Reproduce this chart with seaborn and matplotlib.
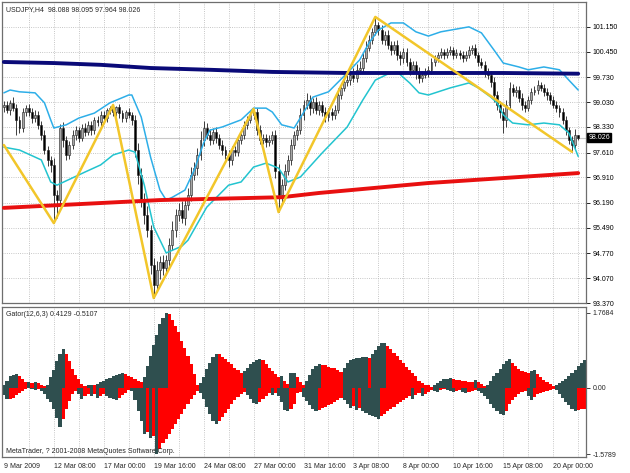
import numpy as np
import pandas as pd
import matplotlib
matplotlib.use('Agg')
import matplotlib.pyplot as plt
import seaborn as sns

# USDJPY H4 closes, one per bar (bar 0 = 9 Mar 2009)
closes = [
    98.95, 98.81, 99.01, 98.87, 98.53, 98.30, 98.75, 98.87, 98.75, 98.58,
    98.67, 98.39, 98.10, 97.68, 97.40, 97.26, 96.41, 96.27, 98.30, 97.96,
    97.54, 97.82, 98.10, 98.24, 98.02, 98.30, 98.19, 98.39, 98.24, 98.53,
    98.47, 98.67, 98.58, 98.81, 98.87, 98.75, 98.89, 98.72, 98.58, 98.75,
    98.67, 98.53, 97.68, 96.98, 96.27, 95.85, 95.42, 94.44, 93.87, 94.30,
    94.52, 94.35, 94.58, 95.00, 95.42, 95.85, 95.99, 95.76, 96.13, 96.41,
    96.98, 97.17, 97.54, 97.96, 98.30, 98.10, 97.96, 98.19, 98.02, 97.82,
    97.68, 97.54, 97.40, 97.68, 97.62, 97.96, 98.10, 98.39, 98.53, 98.67,
    98.75, 98.24, 97.96, 98.02, 97.91, 97.96, 98.10, 97.10, 96.41, 96.69,
    97.10, 97.40, 97.82, 98.10, 98.24, 98.67, 98.95, 99.09, 98.87, 99.03,
    98.81, 98.95, 98.75, 98.61, 98.75, 98.67, 98.81, 99.23, 99.43, 99.60,
    99.65, 99.80, 99.71, 99.94, 99.99, 100.27, 100.56, 100.78, 101.01, 101.20,
    101.06, 100.78, 100.92, 100.64, 100.50, 100.64, 100.36, 100.27, 100.44, 100.16,
    99.94, 100.08, 99.88, 99.71, 99.80, 99.88, 99.94, 100.16, 100.27, 100.36,
    100.44, 100.36, 100.44, 100.50, 100.36, 100.42, 100.36, 100.27, 100.36, 100.50,
    100.56, 100.36, 100.16, 100.08, 99.88, 99.80, 99.60, 99.23, 98.95, 98.75,
    98.53, 98.95, 99.43, 99.32, 99.37, 99.15, 98.95, 98.87, 99.09, 99.32,
    99.37, 99.51, 99.43, 99.32, 99.23, 99.09, 98.95, 98.87, 98.75, 98.53,
    98.24, 97.96, 97.82, 98.09, 98.026,
]
first_open = 98.88

upper_wick = [
    0.10, 0.12, 0.08, 0.15, 0.10, 0.12, 0.10, 0.08, 0.12, 0.10,
    0.14, 0.10, 0.12, 0.15, 0.10, 0.12, 0.20, 0.15, 0.10, 0.18,
    0.12, 0.10, 0.15, 0.12, 0.10, 0.12, 0.15, 0.10, 0.12, 0.08,
    0.10, 0.12, 0.10, 0.06, 0.05, 0.08, 0.04, 0.08, 0.10, 0.06,
    0.10, 0.08, 0.15, 0.20, 0.18, 0.20, 0.25, 0.15, 0.20, 0.25,
    0.18, 0.20, 0.15, 0.20, 0.25, 0.18, 0.20, 0.25, 0.18, 0.20,
    0.22, 0.18, 0.20, 0.25, 0.20, 0.15, 0.18, 0.12, 0.15, 0.12,
    0.15, 0.12, 0.15, 0.12, 0.10, 0.12, 0.15, 0.10, 0.12, 0.08,
    0.09, 0.12, 0.15, 0.10, 0.12, 0.15, 0.12, 0.15, 0.20, 0.18,
    0.20, 0.15, 0.18, 0.12, 0.15, 0.20, 0.15, 0.20, 0.15, 0.12,
    0.15, 0.12, 0.10, 0.15, 0.12, 0.10, 0.15, 0.20, 0.15, 0.18,
    0.15, 0.12, 0.18, 0.15, 0.20, 0.15, 0.18, 0.15, 0.12, 0.23,
    0.10, 0.15, 0.12, 0.15, 0.10, 0.12, 0.15, 0.10, 0.12, 0.10,
    0.12, 0.10, 0.12, 0.15, 0.10, 0.12, 0.10, 0.12, 0.10, 0.08,
    0.10, 0.08, 0.10, 0.12, 0.08, 0.10, 0.08, 0.10, 0.12, 0.10,
    0.08, 0.10, 0.08, 0.12, 0.10, 0.12, 0.10, 0.15, 0.12, 0.10,
    0.12, 0.15, 0.18, 0.12, 0.10, 0.12, 0.15, 0.10, 0.12, 0.10,
    0.12, 0.15, 0.10, 0.12, 0.10, 0.08, 0.12, 0.10, 0.08, 0.10,
    0.12, 0.10, 0.12, 0.18, 0.005,
]
lower_wick = [
    0.12, 0.10, 0.15, 0.10, 0.43, 0.15, 0.10, 0.12, 0.10, 0.15,
    0.10, 0.12, 0.15, 0.12, 0.18, 0.20, 0.79, 0.50, 0.15, 0.20,
    0.15, 0.12, 0.10, 0.15, 0.12, 0.10, 0.12, 0.10, 0.15, 0.10,
    0.12, 0.10, 0.15, 0.10, 0.12, 0.10, 0.12, 0.15, 0.10, 0.12,
    0.10, 0.15, 0.20, 0.25, 0.20, 0.25, 0.20, 0.25, 0.36, 0.20,
    0.25, 0.20, 0.18, 0.20, 0.15, 0.20, 0.18, 0.15, 0.20, 0.15,
    0.18, 0.15, 0.20, 0.15, 0.18, 0.12, 0.15, 0.12, 0.15, 0.12,
    0.15, 0.12, 0.20, 0.15, 0.12, 0.10, 0.12, 0.10, 0.12, 0.10,
    0.12, 0.15, 0.12, 0.10, 0.15, 0.12, 0.10, 0.20, 0.48, 0.20,
    0.15, 0.12, 0.15, 0.12, 0.15, 0.12, 0.15, 0.12, 0.20, 0.15,
    0.12, 0.15, 0.12, 0.15, 0.12, 0.15, 0.12, 0.10, 0.12, 0.10,
    0.12, 0.15, 0.12, 0.10, 0.12, 0.10, 0.12, 0.10, 0.12, 0.10,
    0.15, 0.12, 0.15, 0.12, 0.15, 0.12, 0.15, 0.20, 0.15, 0.12,
    0.15, 0.12, 0.20, 0.15, 0.12, 0.10, 0.15, 0.12, 0.10, 0.12,
    0.10, 0.12, 0.10, 0.08, 0.12, 0.10, 0.12, 0.10, 0.08, 0.10,
    0.12, 0.10, 0.12, 0.10, 0.15, 0.12, 0.15, 0.20, 0.15, 0.18,
    0.37, 0.20, 0.15, 0.12, 0.15, 0.12, 0.15, 0.12, 0.10, 0.12,
    0.10, 0.12, 0.10, 0.12, 0.15, 0.12, 0.10, 0.12, 0.15, 0.12,
    0.15, 0.10, 0.19, 0.10, 0.062,
]

# x axis labels, one every 16 bars
tick_labels = ['9 Mar 2009', '12 Mar 08:00', '17 Mar 00:00', '19 Mar 16:00',
               '24 Mar 08:00', '27 Mar 00:00', '31 Mar 16:00', '3 Apr 08:00',
               '8 Apr 00:00', '10 Apr 16:00', '15 Apr 08:00', '20 Apr 00:00']
price_ticks = [101.150, 100.450, 99.730, 99.030, 98.330, 97.610,
               96.910, 96.190, 95.490, 94.770, 94.070, 93.370]

# ZigZag pivots
zz_bar = [0, 16, 35, 48, 80, 88, 119, 182]
zz_price = [97.82, 95.62, 98.95, 93.51, 98.84, 95.93, 101.43, 97.63]

# envelope / band lines (read at points)
band_up_bar = [0, 2, 5, 10, 13, 15, 16, 20, 24, 29, 34, 40, 41, 44, 47, 50, 52, 54,
               58, 61, 64, 66, 70, 76, 80, 84, 86, 89, 93, 99, 104, 110, 114, 117,
               120, 124, 128, 132, 136, 140, 149, 153, 157, 160, 165, 168, 173,
               178, 181, 184]
band_up = [99.29, 99.37, 99.32, 99.29, 99.01, 98.53, 98.30, 98.39, 98.58, 98.72,
           99.01, 99.23, 99.23, 98.61, 97.48, 96.55, 96.27, 96.35, 96.55, 97.12,
           97.88, 98.24, 98.33, 98.53, 98.86, 98.86, 98.75, 98.39, 98.30, 99.17,
           99.32, 99.85, 100.22, 100.70, 101.06, 101.26, 101.26, 101.01, 100.89,
           101.01, 101.15, 100.98, 100.50, 100.13, 100.02, 99.94, 100.02, 99.94,
           99.65, 99.37]
band_lo_bar = [0, 5, 12, 15, 17, 26, 31, 35, 40, 42, 45, 48, 52, 57, 59, 65, 72, 76,
               80, 84, 88, 91, 95, 102, 110, 115, 119, 123, 126, 130, 133, 136, 143,
               149, 152, 156, 158, 160, 163, 168, 173, 178, 181, 184]
band_lo = [97.76, 97.68, 97.40, 96.78, 96.69, 97.06, 97.26, 97.54, 97.68, 97.62,
           96.69, 95.51, 94.78, 94.97, 95.14, 96.07, 96.69, 96.78, 97.20, 97.31,
           97.17, 96.78, 96.92, 97.60, 98.33, 99.09, 99.65, 99.82, 99.88, 99.57,
           99.29, 99.23, 99.43, 99.57, 99.43, 99.17, 99.01, 98.67, 98.44, 98.39,
           98.44, 98.39, 98.16, 97.50]

# long moving averages
ma_navy_bar = [0, 16, 31, 47, 66, 86, 110, 133, 160, 184]
ma_navy = [100.16, 100.13, 100.08, 99.99, 99.94, 99.88, 99.85, 99.85, 99.85, 99.83]
ma_red_bar = [0, 50, 89, 101, 136, 184]
ma_red = [96.05, 96.27, 96.35, 96.47, 96.75, 97.03]

# Gator oscillator
gator_up = [
    0.05, 0.15, 0.26, 0.30, 0.31, 0.27, 0.19, 0.12, 0.14, 0.10,
    0.13, 0.10, 0.06, 0.03, 0.05, 0.24, 0.42, 0.62, 0.78, 0.90,
    0.80, 0.62, 0.43, 0.29, 0.20, 0.08, 0.04, 0.05, 0.07, 0.05,
    0.08, 0.12, 0.15, 0.20, 0.23, 0.26, 0.29, 0.31, 0.34, 0.31,
    0.27, 0.24, 0.20, 0.15, 0.12, 0.24, 0.50, 0.74, 1.01, 1.25,
    1.49, 1.64, 1.77, 1.74, 1.60, 1.45, 1.30, 1.10, 0.94, 0.75,
    0.55, 0.31, 0.06, 0.10, 0.24, 0.43, 0.59, 0.73, 0.80, 0.79,
    0.73, 0.67, 0.61, 0.55, 0.47, 0.42, 0.35, 0.39, 0.47, 0.55,
    0.61, 0.66, 0.67, 0.64, 0.55, 0.47, 0.39, 0.31, 0.24, 0.27,
    0.15, 0.08, 0.34, 0.35, 0.24, 0.12, 0.05, 0.15, 0.29, 0.43,
    0.50, 0.55, 0.54, 0.52, 0.49, 0.47, 0.45, 0.42, 0.37, 0.47,
    0.59, 0.65, 0.68, 0.69, 0.70, 0.71, 0.72, 0.70, 0.78, 0.88,
    0.97, 1.04, 1.05, 0.97, 0.90, 0.82, 0.74, 0.66, 0.57, 0.49,
    0.42, 0.34, 0.26, 0.16, 0.10, 0.07, 0.05, 0.02, 0.05, 0.10,
    0.16, 0.20, 0.21, 0.22, 0.20, 0.18, 0.17, 0.16, 0.15, 0.14,
    0.13, 0.17, 0.12, 0.08, 0.04, 0.05, 0.16, 0.26, 0.35, 0.43,
    0.55, 0.63, 0.68, 0.59, 0.51, 0.43, 0.39, 0.37, 0.34, 0.39,
    0.42, 0.31, 0.24, 0.18, 0.12, 0.08, 0.04, 0.06, 0.10, 0.15,
    0.20, 0.26, 0.34, 0.42, 0.51, 0.59, 0.64,
]
gator_down = [
    -0.17, -0.28, -0.27, -0.24, -0.18, -0.12, -0.08, -0.04, -0.02, -0.04,
    -0.05, -0.04, -0.08, -0.16, -0.28, -0.35, -0.51, -0.71, -0.94, -0.75,
    -0.51, -0.31, -0.16, -0.08, -0.16, -0.28, -0.20, -0.16, -0.21, -0.16,
    -0.24, -0.20, -0.16, -0.20, -0.24, -0.28, -0.29, -0.24, -0.18, -0.12,
    -0.05, -0.08, -0.30, -0.55, -0.80, -1.10, -1.05, -1.20, -1.15, -1.58,
    -1.45, -1.30, -1.22, -1.10, -0.98, -0.86, -0.75, -0.63, -0.51, -0.39,
    -0.28, -0.18, -0.08, -0.12, -0.28, -0.45, -0.62, -0.80, -0.87, -0.80,
    -0.70, -0.60, -0.50, -0.40, -0.30, -0.22, -0.15, -0.10, -0.18, -0.28,
    -0.36, -0.40, -0.35, -0.28, -0.20, -0.14, -0.18, -0.12, -0.20, -0.35,
    -0.52, -0.55, -0.50, -0.40, -0.12, -0.10, -0.22, -0.33, -0.42, -0.50,
    -0.55, -0.52, -0.49, -0.45, -0.42, -0.38, -0.34, -0.30, -0.25, -0.30,
    -0.40, -0.48, -0.44, -0.52, -0.48, -0.55, -0.60, -0.64, -0.68, -0.70,
    -0.74, -0.68, -0.62, -0.56, -0.50, -0.45, -0.40, -0.35, -0.30, -0.25,
    -0.20, -0.26, -0.18, -0.12, -0.20, -0.15, -0.10, -0.06, -0.08, -0.10,
    -0.06, -0.04, -0.06, -0.08, -0.10, -0.08, -0.07, -0.10, -0.12, -0.10,
    -0.08, -0.05, -0.08, -0.12, -0.20, -0.28, -0.38, -0.48, -0.56, -0.62,
    -0.66, -0.55, -0.40, -0.30, -0.22, -0.15, -0.10, -0.08, -0.20, -0.30,
    -0.22, -0.15, -0.12, -0.10, -0.08, -0.05, -0.03, -0.06, -0.15, -0.25,
    -0.35, -0.42, -0.50, -0.55, -0.52, -0.51, -0.50,
]

sns.set_style('white')
plt.rcParams['font.family'] = ['Liberation Sans', 'DejaVu Sans']
plt.rcParams['font.size'] = 5

fig = plt.figure(figsize=(6.3, 4.73), dpi=100)
ax = fig.add_axes([2 / 630, 1 - 303 / 473, 584 / 630, 301 / 473])
ax2 = fig.add_axes([2 / 630, 1 - 457 / 473, 584 / 630, 150 / 473])

# candles
df = pd.DataFrame({'open': [first_open] + closes[:-1], 'close': closes})
df['bar'] = np.arange(len(df))
df['top'] = df[['open', 'close']].max(axis=1)
df['bot'] = df[['open', 'close']].min(axis=1)
df['high'] = df['top'] + upper_wick
df['low'] = df['bot'] - lower_wick
bull = df['close'] >= df['open']

grid_kw = dict(color='#b4b4b4', ls=':', lw=0.6)
for b in range(8, 187, 8):
    ax.axvline(b, zorder=0, **grid_kw)
    ax2.axvline(b, zorder=0, **grid_kw)
for p in price_ticks:
    ax.axhline(p, zorder=0, **grid_kw)
ax.axhline(closes[-1], color='#c8c8c8', lw=0.8, zorder=0.5)

ax.vlines(df['bar'], df['low'], df['high'], color='#202020', lw=0.6, zorder=2)
ax.bar(df['bar'], (df['top'] - df['bot']).clip(lower=0.02), bottom=df['bot'],
       width=0.62, color=np.where(bull, '#a6a6a6', '#000000'),
       edgecolor='#202020', linewidth=0.4, zorder=3)

line_kw = dict(ax=ax, estimator=None, sort=False, legend=False)
sns.lineplot(x=band_up_bar, y=band_up, color='#2daee8', lw=1.1, zorder=4, **line_kw)
sns.lineplot(x=band_lo_bar, y=band_lo, color='#22c4cf', lw=1.1, zorder=4, **line_kw)
sns.lineplot(x=ma_navy_bar, y=ma_navy, color='#0a0a78', lw=2.8, zorder=5, **line_kw)
sns.lineplot(x=ma_red_bar, y=ma_red, color='#e81010', lw=2.8, zorder=5, **line_kw)
sns.lineplot(x=zz_bar, y=zz_price, color='#f2c62a', lw=1.8, zorder=6, **line_kw)

ax.set_xlim(-0.6, 186.5)
ax.set_ylim(93.37, 101.85)
ax.set_xticks([])
ax.yaxis.tick_right()
ax.set_yticks(price_ticks)
ax.set_yticklabels([f'{p:.3f}' for p in price_ticks])
ax.tick_params(axis='y', length=3, width=0.6, pad=2, labelsize=5, colors='black')
ax.text(0.006, 0.985, 'USDJPY,H4  98.088 98.095 97.964 98.026',
        transform=ax.transAxes, va='top', ha='left', fontsize=5)
ax.annotate(f'{closes[-1]:.3f}', xy=(1.004, closes[-1]), xycoords=('axes fraction', 'data'),
            ha='left', va='center', color='white', fontsize=5,
            bbox=dict(boxstyle='square,pad=0.15', fc='black', ec='black'))

# gator histogram, dark when growing, red when shrinking
g = pd.DataFrame({'up': gator_up, 'down': gator_down})
g['bar'] = np.arange(len(g))
g['up_col'] = np.where(g['up'].diff().fillna(1) >= 0, '#2f4f4f', '#ff0000')
g['dn_col'] = np.where(g['down'].abs().diff().fillna(1) >= 0, '#2f4f4f', '#ff0000')
ax2.bar(g['bar'], g['up'], width=1.0, color=g['up_col'], linewidth=0, zorder=2)
ax2.bar(g['bar'], g['down'], width=1.0, color=g['dn_col'], linewidth=0, zorder=2)

ax2.set_xlim(-0.6, 186.5)
ax2.set_ylim(-1.64, 1.90)
ax2.yaxis.tick_right()
ax2.set_yticks([1.7684, 0.0, -1.5789])
ax2.set_yticklabels(['1.7684', '0.00', '-1.5789'])
ax2.tick_params(axis='y', length=3, width=0.6, pad=2, labelsize=5)
ax2.set_xticks(range(0, 177, 16))
ax2.set_xticklabels(tick_labels, ha='left')
ax2.tick_params(axis='x', length=3, width=0.6, pad=1.5, labelsize=5)
ax2.text(0.006, 0.975, 'Gator(12,6,3) 0.4129 -0.5107', transform=ax2.transAxes,
         va='top', ha='left', fontsize=5)
ax2.text(0.006, 0.015, 'MetaTrader, ? 2001-2008 MetaQuotes Software Corp.',
         transform=ax2.transAxes, va='bottom', ha='left', fontsize=5)

for a in (ax, ax2):
    for s in a.spines.values():
        s.set_color('#6e6e6e')
        s.set_linewidth(0.9)

fig.savefig('out.png', dpi=100)
